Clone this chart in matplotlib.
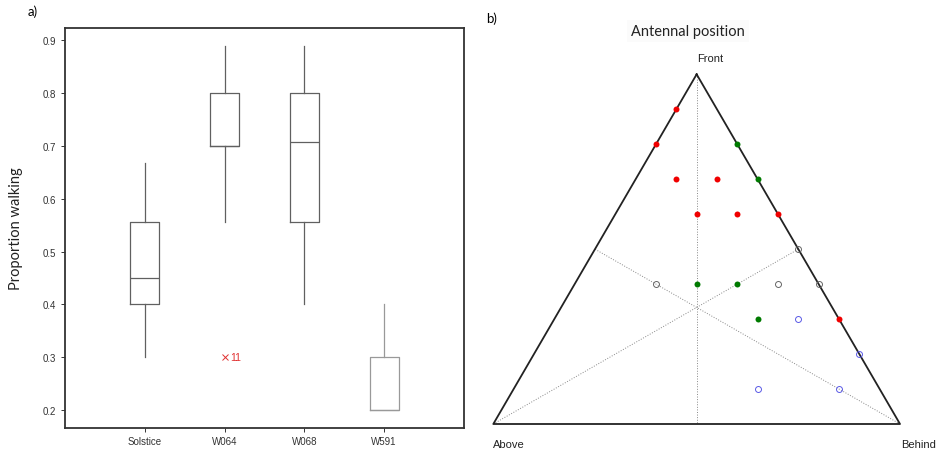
import numpy as np
import matplotlib
matplotlib.use("Agg")
import matplotlib.pyplot as plt

plt.rcParams['font.family'] = ['Liberation Sans', 'DejaVu Sans']

# ---- panel a: box plot summary values ----
groups = ['Solstice', 'W064', 'W068', 'W591']
whislo = [0.30, 0.556, 0.40, 0.20]
q1 = [0.40, 0.70, 0.556, 0.20]
med = [0.45, 0.70, 0.707, 0.20]
q3 = [0.556, 0.80, 0.80, 0.30]
whishi = [0.667, 0.889, 0.889, 0.40]
fliers = [[], [0.30], [], []]
outlier_label = '11'
yticks = [0.2, 0.3, 0.4, 0.5, 0.6, 0.7, 0.8, 0.9]

# ---- panel b: ternary points (above, front, behind) ----
red_above = [0.1, 0.2, 0.2, 0.1, 0.2, 0.1, 0.0, 0.0]
red_front = [0.9, 0.8, 0.7, 0.7, 0.6, 0.6, 0.6, 0.3]
red_behind = [0.0, 0.0, 0.1, 0.2, 0.2, 0.3, 0.4, 0.7]

green_above = [0.0, 0.0, 0.3, 0.2, 0.2]
green_front = [0.8, 0.7, 0.4, 0.4, 0.3]
green_behind = [0.2, 0.3, 0.3, 0.4, 0.5]

grey_above = [0.0, 0.4, 0.1, 0.0]
grey_front = [0.5, 0.4, 0.4, 0.4]
grey_behind = [0.5, 0.2, 0.5, 0.6]

blue_above = [0.1, 0.0, 0.3, 0.1]
blue_front = [0.3, 0.2, 0.1, 0.1]
blue_behind = [0.6, 0.8, 0.6, 0.8]

H = np.sqrt(3) / 2


def tern(above, front, behind):
    above, front, behind = map(np.asarray, (above, front, behind))
    tot = above + front + behind
    x = (behind + front / 2) / tot
    y = front * H / tot
    return x, y


W, Hpx = 940, 456
fig = plt.figure(figsize=(W / 100, Hpx / 100), dpi=100)

# ---------------- panel a ----------------
ax = fig.add_axes([65 / W, (Hpx - 429) / Hpx, 399 / W, 400 / Hpx])
stats = []
for i, g in enumerate(groups):
    stats.append(dict(label=g, whislo=whislo[i], q1=q1[i], med=med[i],
                      q3=q3[i], whishi=whishi[i], fliers=fliers[i]))
box_col = '#606060'
res = ax.bxp(stats, positions=[1, 2, 3, 4], widths=0.36, showcaps=False,
             showfliers=True,
             boxprops=dict(color=box_col, lw=0.9),
             whiskerprops=dict(color=box_col, lw=0.9),
             medianprops=dict(color=box_col, lw=0.9),
             flierprops=dict(marker='x', markeredgecolor='#e03030',
                             markersize=4, markeredgewidth=0.7))
# last group drawn lighter
res['boxes'][3].set_color('#999999')
for w in res['whiskers'][6:8]:
    w.set_color('#999999')
res['medians'][3].set_color('#999999')

ax.text(2.07, fliers[1][0], outlier_label, color='#e03030', fontsize=7.5,
        va='center', ha='left')

ax.set_xlim(0, 5)
ax.set_ylim(0.166, 0.923)
ax.set_yticks(yticks)
ax.set_yticklabels([f'{v:.1f}' for v in yticks])
ax.tick_params(axis='both', labelsize=7, length=3, width=0.7,
               colors='#333333', direction='out')
ax.tick_params(axis='x', pad=3)
for s in ax.spines.values():
    s.set_color('#333333')
    s.set_linewidth(1.3)
ax.set_ylabel('Proportion walking', fontsize=10.5, family=['Lato', 'DejaVu Sans'],
              color='#222222')
ax.yaxis.set_label_coords(-0.105, 0.5)
fig.text(33 / W, 1 - 12 / Hpx, 'a)', fontsize=9.5, ha='center', va='center',
         family=['Lato', 'DejaVu Sans'])

# ---------------- panel b ----------------
bx = fig.add_axes([493.3 / W, (Hpx - 425) / Hpx, 406.7 / W, 349.7 / Hpx])
bx.set_xlim(0, 1)
bx.set_ylim(0, H)
bx.axis('off')

# medians of the triangle (dotted guide lines)
mid_x, mid_y = tern([0, 0.5, 0.5], [0.5, 0, 0.5], [0.5, 0.5, 0])
vx, vy = tern([0, 1, 0], [1, 0, 0], [0, 0, 1])
for (x0, y0), (x1, y1) in [((vx[0], vy[0]), (mid_x[1], mid_y[1])),
                           ((vx[1], vy[1]), (mid_x[0], mid_y[0])),
                           ((vx[2], vy[2]), (mid_x[2], mid_y[2]))]:
    bx.plot([x0, x1], [y0, y1], ls=':', color='#888888', lw=0.7, clip_on=False)

tri_x = [vx[0], vx[1], vx[2], vx[0]]
tri_y = [vy[0], vy[1], vy[2], vy[0]]
bx.plot(tri_x, tri_y, color='#222222', lw=1.3, clip_on=False, zorder=2)

x, y = tern(red_above, red_front, red_behind)
bx.plot(x, y, 'o', color='#f00000', ms=4.3, mec='none', clip_on=False, zorder=3)
x, y = tern(green_above, green_front, green_behind)
bx.plot(x, y, 'o', color='#007a00', ms=4.3, mec='none', clip_on=False, zorder=3)
x, y = tern(grey_above, grey_front, grey_behind)
bx.plot(x, y, 'o', mfc='none', mec='#666666', ms=4.3, mew=0.7, clip_on=False, zorder=3)
x, y = tern(blue_above, blue_front, blue_behind)
bx.plot(x, y, 'o', mfc='none', mec='#5a5ae6', ms=4.3, mew=0.7, clip_on=False, zorder=3)

bx.annotate('Front', (vx[0], vy[0]), xytext=(0, 11.5), textcoords='offset points',
            ha='left', va='center', fontsize=8, color='#222222')
bx.annotate('Above', (vx[1], vy[1]), xytext=(0, -14.5), textcoords='offset points',
            ha='left', va='center', fontsize=8, color='#222222')
bx.annotate('Behind', (vx[2], vy[2]), xytext=(1, -14.5), textcoords='offset points',
            ha='left', va='center', fontsize=8, color='#222222')

fig.text(688 / W, 1 - 32 / Hpx, 'Antennal position', fontsize=10.5,
         ha='center', va='center', family=['Lato', 'DejaVu Sans'], color='#222222',
         bbox=dict(facecolor='#fbfbfb', edgecolor='none', pad=3))
fig.text(492 / W, 1 - 19 / Hpx, 'b)', fontsize=9.5, ha='center', va='center',
         family=['Lato', 'DejaVu Sans'])

fig.savefig('out.png', dpi=100)
